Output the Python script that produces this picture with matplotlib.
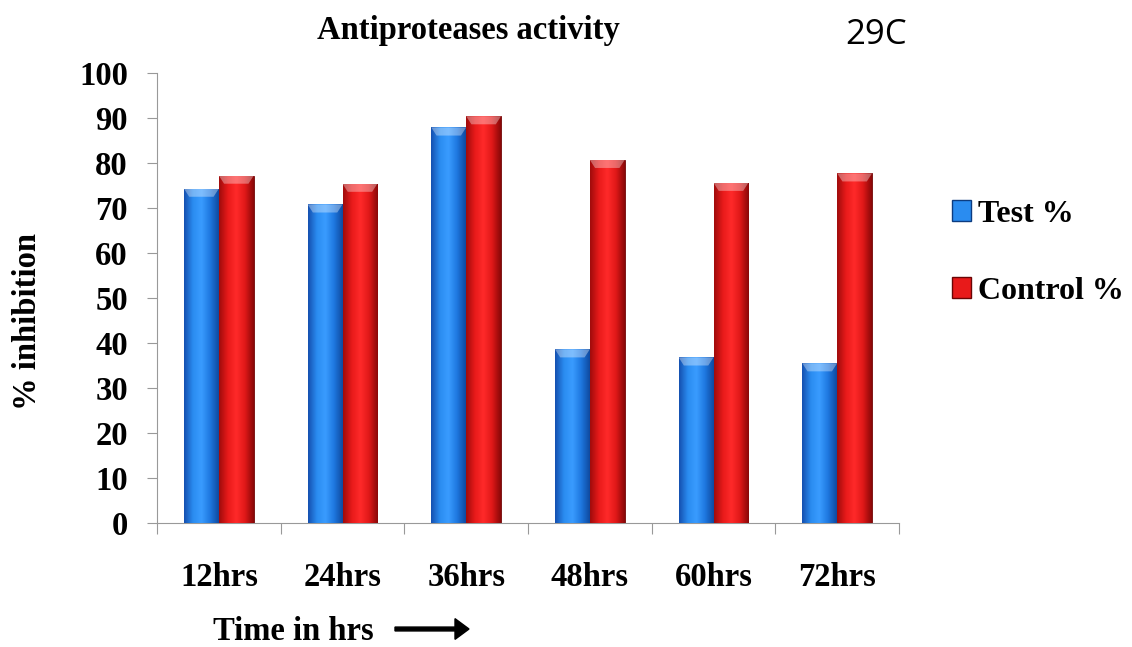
import numpy as np
import matplotlib
matplotlib.use("Agg")
import matplotlib.pyplot as plt
from matplotlib.patches import Patch, FancyArrow
from matplotlib.colors import LinearSegmentedColormap

categories = ["12hrs", "24hrs", "36hrs", "48hrs", "60hrs", "72hrs"]
test_pct = [74.3, 70.8, 87.9, 38.6, 36.8, 35.5]
control_pct = [77.2, 75.4, 90.4, 80.7, 75.6, 77.7]
series_names = ["Test %", "Control %"]
yticks = list(range(0, 101, 10))

SERIF = "Liberation Serif"
FS = 23.5
BLUE = ["#1550b0", "#2a8cf0", "#3a9cff", "#1e78e0", "#0f4aa0"]
RED = ["#a00c0c", "#e81a1a", "#ff2a2a", "#e01818", "#8a0808"]

fig = plt.figure(figsize=(11.32, 6.47), dpi=100)
ax = fig.add_axes([157/1132, 1-523/647, (899-157)/1132, 450/647])

x = np.arange(len(categories)) + 0.5
w = 0.282


def shade(bars, cols):
    # horizontal gradient clipped to each bar + a lighter bevel on top
    cmap = LinearSegmentedColormap.from_list("c", cols)
    grad = np.linspace(0, 1, 64).reshape(1, -1)
    for b in bars:
        x0, y0 = b.get_x(), b.get_y()
        bw, bh = b.get_width(), b.get_height()
        im = ax.imshow(grad, cmap=cmap, aspect="auto", zorder=3,
                       extent=[x0, x0 + bw, y0, y0 + bh], interpolation="bicubic")
        im.set_clip_path(b)
        ax.fill([x0, x0 + bw, x0 + bw*0.85, x0 + bw*0.15],
                [bh, bh, bh - 1.8, bh - 1.8], color="white", alpha=0.35,
                lw=0, zorder=4)


b1 = ax.bar(x - w/2, test_pct, w, color=BLUE[1], edgecolor="#0c3c80",
            lw=0.6, zorder=2)
b2 = ax.bar(x + w/2, control_pct, w, color=RED[1], edgecolor="#6a0505",
            lw=0.6, zorder=2)
shade(b1, BLUE)
shade(b2, RED)

ax.set_xlim(0, len(categories))
ax.set_ylim(0, 100)
ax.set_yticks(yticks)
ax.set_yticklabels([str(t) for t in yticks], fontfamily=SERIF,
                   fontweight="bold", fontsize=FS)
ax.set_xticks(np.arange(len(categories) + 1))
ax.set_xticklabels([])
ax.set_xticks(x, minor=True)
ax.set_xticklabels(categories, minor=True, fontfamily=SERIF,
                   fontweight="bold", fontsize=FS)
ax.tick_params(axis="x", which="major", length=8, color="#999999", direction="out")
ax.tick_params(axis="x", which="minor", length=0, pad=28)
ax.tick_params(axis="y", length=7, color="#999999", pad=14)
for s in ["top", "right"]:
    ax.spines[s].set_visible(False)
for s in ["left", "bottom"]:
    ax.spines[s].set_color("#999999")

ax.set_ylabel("% inhibition", fontfamily=SERIF, fontweight="bold", fontsize=FS)
ax.yaxis.set_label_coords((43 - 157)/742, (523 - 322)/450)

fig.text(468/1132, 1-30/647, "Antiproteases activity", fontfamily=SERIF,
         fontweight="bold", fontsize=FS, ha="center", va="center")
fig.text(876/1132, 1-35/647, "29C", fontfamily="Open Sans", fontsize=25,
         ha="center", va="center")
fig.text(213/1132, 1-632/647, "Time in hrs", fontfamily=SERIF,
         fontweight="bold", fontsize=FS, ha="left", va="center")
fig.patches.append(FancyArrow(
    395/1132, 1-629/647, 60/1132, 0, width=0.006, head_width=0.032,
    head_length=14/1132, color="black", transform=fig.transFigure, figure=fig))

handles = [Patch(facecolor=BLUE[1], edgecolor="#0c3c80"),
           Patch(facecolor=RED[1], edgecolor="#6a0505")]
fig.legend(handles, series_names, loc="upper left",
           bbox_to_anchor=(923/1132, 1-171/647), frameon=False,
           prop=dict(family=SERIF, weight="bold", size=23),
           handlelength=0.6, handleheight=0.6, handletextpad=0.22,
           labelspacing=1.5)

fig.savefig("out.png", dpi=100)
